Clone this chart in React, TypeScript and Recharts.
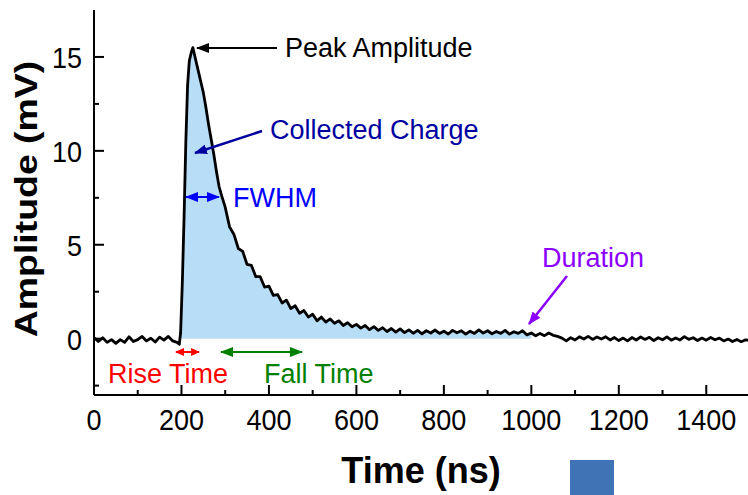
import React from "react";
import { ComposedChart, Line, Area, XAxis, YAxis } from "recharts";

const times = [
  0, 10, 20, 30, 40, 50, 60, 70, 80, 90, 100, 110, 120, 130, 140, 150, 160, 170, 180, 190,
  195, 198, 202, 206, 210, 214, 218, 222, 226, 230, 235, 240, 245, 250, 256, 262, 268, 274, 280, 286, 292,
  300, 310, 320, 330, 340, 350, 360, 370, 380, 390, 400, 410, 420, 430, 440, 450, 460, 470, 480, 490,
  500, 510, 520, 530, 540, 550, 560, 570, 580, 590, 600, 610, 620, 630, 640, 650, 660, 670, 680, 690, 700,
  710, 720, 730, 740, 750, 760, 770, 780, 790, 800, 810, 820, 830, 840, 850, 860, 870, 880, 890, 900,
  910, 920, 930, 940, 950, 960, 970, 980, 990, 1000,
  1010, 1020, 1030, 1040, 1050, 1060, 1070, 1080, 1090, 1100, 1110, 1120, 1130, 1140, 1150, 1160, 1170, 1180, 1190, 1200,
  1210, 1220, 1230, 1240, 1250, 1260, 1270, 1280, 1290, 1300, 1310, 1320, 1330, 1340, 1350, 1360, 1370, 1380, 1390, 1400,
  1410, 1420, 1430, 1440, 1450, 1460, 1470, 1480, 1490, 1500,
];

const amplitude = [
  0.05, -0.15, 0.05, -0.2, -0.05, -0.25, -0.05, -0.2, 0.1, -0.15, -0.05, 0.12, -0.12, 0.02, -0.18, 0.08, -0.08, 0.12, -0.12, -0.2,
  -0.3, 0.3, 3.0, 6.5, 10.5, 13.5, 14.8, 15.2, 15.5, 15.1, 14.6, 14.1, 13.6, 13.1, 12.3, 11.4, 10.6, 9.8, 8.9, 8.1, 7.6,
  7.0, 5.95, 5.55, 4.8, 4.65, 3.95, 3.9, 3.3, 3.3, 2.75, 2.8, 2.3, 2.35, 1.9, 2.05, 1.6, 1.75, 1.35, 1.5, 1.15,
  1.3, 0.95, 1.15, 0.88, 1.05, 0.82, 0.95, 0.7, 0.85, 0.63, 0.76, 0.56, 0.7, 0.48, 0.64, 0.44, 0.58, 0.38, 0.54, 0.35, 0.52,
  0.32, 0.47, 0.29, 0.44, 0.26, 0.42, 0.3, 0.46, 0.28, 0.4, 0.25, 0.44, 0.31, 0.42, 0.24, 0.4, 0.28, 0.47, 0.3, 0.42,
  0.26, 0.38, 0.28, 0.44, 0.24, 0.37, 0.28, 0.42, 0.2, 0.3,
  0.15, 0.28, 0.16, 0.3, 0.18, 0.12, 0.03, -0.12, 0.05, -0.07, 0.1, -0.02, 0.12, -0.04, 0.09, -0.02, 0.1, -0.07, 0.06, -0.1,
  0.03, -0.12, 0.06, -0.07, 0.09, -0.04, 0.07, -0.1, 0.05, -0.06, 0.09, -0.08, 0.04, -0.07, 0.11, -0.04, 0.05, -0.1, 0.03, -0.08,
  0.06, -0.06, 0.03, -0.12, -0.02, -0.15, -0.04, -0.16, -0.06, -0.1,
];

// shaded "collected charge" window
const chargeStart = 198;
const chargeEnd = 1000;

const xTicks = [0, 100, 200, 300, 400, 500, 600, 700, 800, 900, 1000, 1100, 1200, 1300, 1400, 1500];
const yTicks = [-2.5, 0, 2.5, 5, 7.5, 10, 12.5, 15];

const data = times.map((t, i) => ({
  t,
  amp: amplitude[i],
  charge: t >= chargeStart && t <= chargeEnd ? amplitude[i] : null,
}));

const FONT = "'Liberation Sans', Arial, Helvetica, sans-serif";

function BottomTick({ x, y, payload }: any) {
  const v = payload.value;
  const major = v % 200 === 0;
  return (
    <g>
      <line x1={x} y1={y} x2={x} y2={y - (major ? 10 : 5)} stroke="#000" strokeWidth={2} />
      {major && (
        <text
          transform={`translate(${x},${y + 35}) scale(1,1.1)`}
          textAnchor="middle"
          fontSize={27}
          fontFamily={FONT}
          fill="#000"
        >
          {v}
        </text>
      )}
    </g>
  );
}

function TopTick({ x, y, payload }: any) {
  const major = payload.value % 200 === 0;
  return <line x1={x} y1={y} x2={x} y2={y + (major ? 10 : 5)} stroke="#000" strokeWidth={2} />;
}

function LeftTick({ x, y, payload }: any) {
  const v = payload.value;
  const major = v % 5 === 0;
  return (
    <g>
      <line x1={x} y1={y} x2={x + (major ? 10 : 5)} y2={y} stroke="#000" strokeWidth={2} />
      {major && (
        <text
          transform={`translate(${x - 12},${y + 11}) scale(1,1.1)`}
          textAnchor="end"
          fontSize={27}
          fontFamily={FONT}
          fill="#000"
        >
          {v}
        </text>
      )}
    </g>
  );
}

function RightTick({ x, y, payload }: any) {
  const major = payload.value % 5 === 0;
  return <line x1={x} y1={y} x2={x - (major ? 10 : 5)} y2={y} stroke="#000" strokeWidth={2} />;
}

const arrowColors: Record<string, string> = {
  k: "#000000",
  navy: "#0000a0",
  blue: "#0000ff",
  red: "#ff0000",
  green: "#008000",
  purple: "#8b00ff",
};

function Annotations() {
  const txt = { fontFamily: FONT, fontSize: 27 };
  return (
    <svg width={748} height={495} style={{ position: "absolute", left: 0, top: 0, pointerEvents: "none" }}>
      <defs>
        {Object.entries(arrowColors).map(([k, c]) => (
          <marker
            key={k}
            id={`ah-${k}`}
            markerWidth={13}
            markerHeight={10}
            refX={12}
            refY={5}
            orient="auto-start-reverse"
            markerUnits="userSpaceOnUse"
          >
            <path d="M0,0 L13,5 L0,10 z" fill={c} />
          </marker>
        ))}
        <marker id="ah-red-s" markerWidth={9} markerHeight={8} refX={8} refY={4} orient="auto-start-reverse" markerUnits="userSpaceOnUse">
          <path d="M0,0 L9,4 L0,8 z" fill="#ff0000" />
        </marker>
      </defs>

      <line x1={277} y1={48} x2={197} y2={48} stroke="#000" strokeWidth={2} markerEnd="url(#ah-k)" />
      <text x={285} y={57} {...txt} fill="#000">Peak Amplitude</text>

      <line x1={262} y1={131} x2={195} y2={153} stroke="#0000a0" strokeWidth={2.5} markerEnd="url(#ah-navy)" />
      <text x={270} y={139} {...txt} fill="#0000a0">Collected Charge</text>

      <line x1={186} y1={197} x2={219} y2={197} stroke="#0000ff" strokeWidth={2} markerStart="url(#ah-blue)" markerEnd="url(#ah-blue)" />
      <text x={233} y={207} {...txt} fill="#0000ff">FWHM</text>

      <line x1={176} y1={352} x2={199} y2={352} stroke="#ff0000" strokeWidth={2} markerStart="url(#ah-red-s)" markerEnd="url(#ah-red-s)" />
      <text x={108} y={383} {...txt} fill="#ff0000">Rise Time</text>

      <line x1={221} y1={352} x2={302} y2={352} stroke="#008000" strokeWidth={2} markerStart="url(#ah-green)" markerEnd="url(#ah-green)" />
      <text x={264} y={383} {...txt} fill="#008000">Fall Time</text>

      <line x1={567} y1={276} x2={529} y2={324} stroke="#8b00ff" strokeWidth={2.5} markerEnd="url(#ah-purple)" />
      <text x={542} y={267} {...txt} fill="#8b00ff">Duration</text>

      <text
        transform="translate(37,199) rotate(-90) scale(1.17,1)"
        textAnchor="middle"
        fontFamily={FONT}
        fontWeight="bold"
        fontSize={32}
        fill="#000"
      >
        Amplitude (mV)
      </text>
      <text x={421} y={483} textAnchor="middle" fontFamily={FONT} fontWeight="bold" fontSize={36} fill="#000">
        Time (ns)
      </text>
      <rect x={570} y={460} width={44} height={40} fill="#3f73b6" />
    </svg>
  );
}

export default function App() {
  const axisLine = { stroke: "#000", strokeWidth: 2 };
  return (
    <div style={{ position: "absolute", left: 0, top: 0, width: 748, height: 495, overflow: "hidden", background: "#fff" }}>
      <ComposedChart width={760} height={495} data={data} margin={{ top: 10, right: 10, left: 0, bottom: 60 }}>
        <XAxis
          xAxisId="b"
          dataKey="t"
          type="number"
          domain={[0, 1500]}
          ticks={xTicks}
          interval={0}
          allowDataOverflow
          height={40}
          tickSize={0}
          tickMargin={0}
          tickLine={false}
          axisLine={axisLine}
          tick={<BottomTick />}
        />
        <XAxis
          xAxisId="t"
          orientation="top"
          type="number"
          domain={[0, 1500]}
          ticks={xTicks}
          interval={0}
          allowDataOverflow
          height={0}
          tickSize={0}
          tickMargin={0}
          tickLine={false}
          axisLine={axisLine}
          tick={<TopTick />}
        />
        <YAxis
          yAxisId="l"
          type="number"
          domain={[-3, 17.5]}
          ticks={yTicks}
          interval={0}
          allowDataOverflow
          width={94}
          tickSize={0}
          tickMargin={0}
          tickLine={false}
          axisLine={axisLine}
          tick={<LeftTick />}
        />
        <YAxis
          yAxisId="r"
          orientation="right"
          type="number"
          domain={[-3, 17.5]}
          ticks={yTicks}
          interval={0}
          allowDataOverflow
          width={0}
          tickSize={0}
          tickMargin={0}
          tickLine={false}
          axisLine={axisLine}
          tick={<RightTick />}
        />
        <Area
          xAxisId="b"
          yAxisId="l"
          type="linear"
          dataKey="charge"
          baseValue={0}
          fill="#b8def7"
          fillOpacity={1}
          stroke="none"
          isAnimationActive={false}
        />
        <Line
          xAxisId="b"
          yAxisId="l"
          type="linear"
          dataKey="amp"
          stroke="#000"
          strokeWidth={2.8}
          strokeLinejoin="round"
          dot={false}
          isAnimationActive={false}
        />
      </ComposedChart>
      <Annotations />
    </div>
  );
}
